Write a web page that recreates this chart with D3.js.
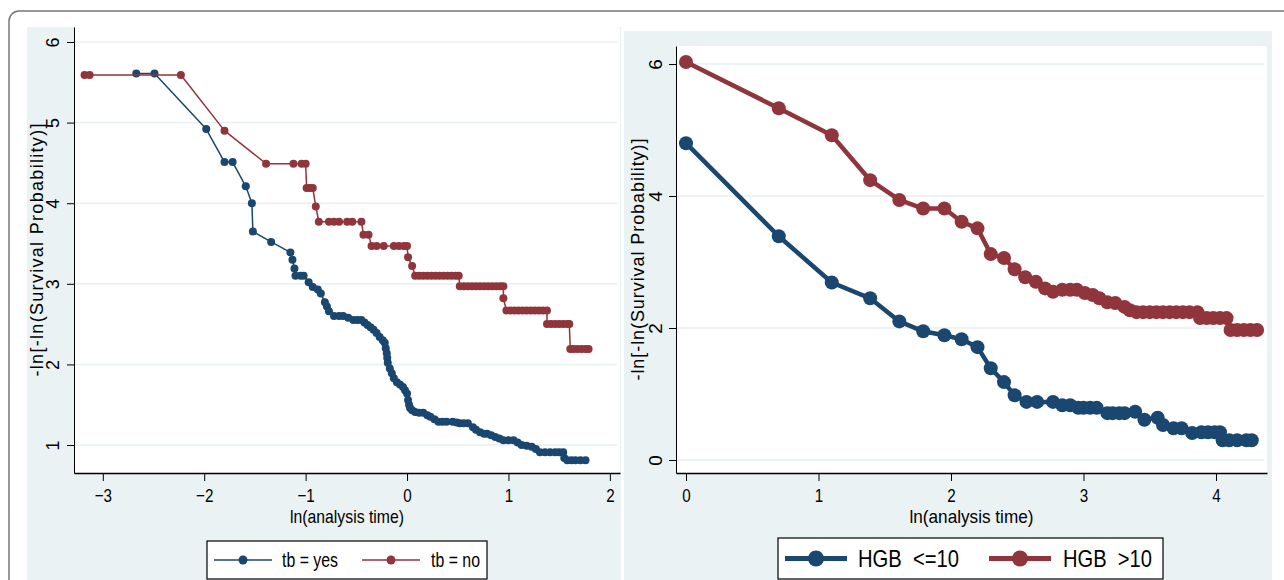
<!DOCTYPE html>
<html>
<head>
<meta charset="utf-8">
<script src="https://cdn.jsdelivr.net/npm/d3@7"></script>
<style>
  body { margin: 0; background: #fff; }
  svg { display: block; font-family: "Liberation Sans", Arial, sans-serif; }
  text { white-space: pre; }
</style>
</head>
<body>
<div class="canvas"></div>
<script>
// ---- data ----
// left: log-log survival by tb status, x = ln(analysis time)
const tbYes = [[-2.67,5.61],[-2.49,5.61],[-1.98,4.92],[-1.80,4.51],[-1.72,4.51],[-1.59,4.21],[-1.53,4.00],[-1.52,3.65],
  [-1.34,3.52],[-1.15,3.39],[-1.13,3.30],[-1.11,3.19],[-1.10,3.10],[-1.05,3.10],[-1.02,3.10],[-0.97,3.02],[-0.93,2.96],
  [-0.88,2.93],[-0.85,2.88],[-0.81,2.77],[-0.79,2.72],[-0.77,2.66],[-0.72,2.60],[-0.67,2.60],[-0.63,2.60],[-0.58,2.58],
  [-0.53,2.55],[-0.49,2.55],[-0.45,2.55],[-0.42,2.52],[-0.39,2.49],[-0.36,2.46],[-0.33,2.43],[-0.30,2.39],[-0.27,2.34],
  [-0.24,2.30],[-0.22,2.27],[-0.21,2.20],[-0.20,2.14],[-0.195,2.08],[-0.19,2.02],[-0.17,1.95],[-0.15,1.89],[-0.13,1.83],
  [-0.10,1.78],[-0.07,1.75],[-0.04,1.72],[-0.02,1.68],[0.00,1.64],[0.01,1.56],[0.02,1.50],[0.03,1.46],[0.05,1.43],
  [0.08,1.41],[0.12,1.40],[0.16,1.40],[0.20,1.37],[0.23,1.35],[0.27,1.32],[0.31,1.29],[0.35,1.29],[0.39,1.29],[0.45,1.29],
  [0.49,1.28],[0.52,1.27],[0.56,1.27],[0.60,1.27],[0.65,1.22],[0.68,1.19],[0.72,1.16],[0.76,1.14],[0.79,1.14],[0.83,1.12],
  [0.87,1.10],[0.91,1.08],[0.95,1.06],[1.00,1.06],[1.05,1.06],[1.09,1.03],[1.13,1.00],[1.18,0.99],[1.23,0.98],[1.27,0.95],
  [1.31,0.91],[1.36,0.91],[1.41,0.91],[1.46,0.91],[1.50,0.91],[1.54,0.91],[1.55,0.84],[1.58,0.81],[1.62,0.81],[1.66,0.81],
  [1.71,0.81],[1.76,0.81]];
const tbNo = [[-3.18,5.59],[-3.13,5.59],[-2.23,5.59],[-1.80,4.90],[-1.39,4.49],[-1.12,4.49],[-1.04,4.49],[-1.00,4.49],
  [-0.99,4.19],[-0.96,4.19],[-0.93,4.19],[-0.90,3.96],[-0.87,3.77],[-0.77,3.77],[-0.72,3.77],[-0.67,3.77],[-0.59,3.77],
  [-0.54,3.77],[-0.45,3.77],[-0.43,3.61],[-0.38,3.61],[-0.35,3.47],[-0.30,3.47],[-0.23,3.47],[-0.13,3.47],[-0.08,3.47],
  [-0.03,3.47],[0.00,3.47],[0.01,3.33],[0.05,3.22],[0.08,3.10],[0.12,3.10],[0.16,3.10],[0.20,3.10],[0.24,3.10],[0.28,3.10],
  [0.32,3.10],[0.36,3.10],[0.40,3.10],[0.44,3.10],[0.48,3.10],[0.51,3.10],[0.52,2.97],[0.56,2.97],[0.60,2.97],[0.64,2.97],
  [0.68,2.97],[0.72,2.97],[0.76,2.97],[0.80,2.97],[0.84,2.97],[0.88,2.97],[0.92,2.97],[0.95,2.97],[0.95,2.82],[0.98,2.67],
  [1.02,2.67],[1.06,2.67],[1.10,2.67],[1.14,2.67],[1.18,2.67],[1.22,2.67],[1.26,2.67],[1.30,2.67],[1.34,2.67],[1.38,2.67],
  [1.38,2.50],[1.42,2.50],[1.46,2.50],[1.50,2.50],[1.54,2.50],[1.58,2.50],[1.60,2.50],[1.61,2.19],[1.64,2.19],[1.68,2.19],
  [1.72,2.19],[1.76,2.19],[1.79,2.19]];
// right: by haemoglobin group
const hgbLow = [[0,4.80],[0.70,3.39],[1.10,2.69],[1.39,2.45],[1.61,2.10],[1.79,1.95],[1.95,1.89],[2.08,1.83],[2.20,1.71],
  [2.30,1.39],[2.40,1.18],[2.48,0.98],[2.57,0.88],[2.65,0.88],[2.77,0.88],[2.84,0.83],[2.90,0.83],[2.96,0.79],[3.00,0.79],
  [3.05,0.79],[3.10,0.79],[3.18,0.71],[3.22,0.71],[3.27,0.71],[3.31,0.71],[3.39,0.73],[3.46,0.61],[3.56,0.64],[3.60,0.53],
  [3.68,0.48],[3.74,0.48],[3.82,0.41],[3.89,0.42],[3.94,0.42],[3.99,0.42],[4.03,0.42],[4.05,0.30],[4.10,0.30],[4.16,0.30],
  [4.23,0.30],[4.27,0.30]];
const hgbHigh = [[0,6.03],[0.70,5.33],[1.10,4.92],[1.39,4.24],[1.61,3.94],[1.79,3.81],[1.95,3.81],[2.08,3.61],[2.20,3.51],
  [2.30,3.12],[2.40,3.06],[2.48,2.89],[2.56,2.77],[2.64,2.70],[2.71,2.60],[2.77,2.55],[2.84,2.58],[2.90,2.58],[2.95,2.58],
  [3.01,2.53],[3.07,2.50],[3.12,2.45],[3.18,2.39],[3.24,2.38],[3.31,2.32],[3.35,2.27],[3.40,2.24],[3.45,2.24],[3.50,2.24],
  [3.55,2.24],[3.60,2.24],[3.65,2.24],[3.70,2.24],[3.75,2.24],[3.80,2.24],[3.86,2.24],[3.88,2.15],[3.93,2.15],[3.98,2.15],
  [4.03,2.15],[4.08,2.15],[4.11,1.97],[4.16,1.97],[4.21,1.97],[4.26,1.97],[4.31,1.97]];

const leftXTicks = [-3,-2,-1,0,1,2];
const leftYTicks = [1,2,3,4,5,6];
const rightXTicks = [0,1,2,3,4];
const rightYTicks = [0,2,4,6];
const leftLabels = ['tb = yes','tb = no'];
const rightLabels = ['HGB  <=10','HGB  >10'];
const yTitle = '-ln[-ln(Survival Probability)]';
const xTitle = 'ln(analysis time)';

const navy = '#1a476f', maroon = '#90353b', bg = '#eaf2f3', grid = '#e8f0f2';

const svg = d3.select('.canvas').append('svg')
  .attr('width',1284).attr('height',580);

// outer frame + panel backgrounds
svg.append('rect').attr('x',9).attr('y',11).attr('width',1400).attr('height',700)
  .attr('rx',10).attr('fill','#fff').attr('stroke','#777').attr('stroke-width',1.5);
svg.append('rect').attr('x',27).attr('y',27).attr('width',594).attr('height',600).attr('fill',bg);
svg.append('rect').attr('x',624).attr('y',31).attr('width',648).attr('height',600).attr('fill',bg);

const panels = [
  { x0:74, x1:620, y0:27, y1:473, xd:[-3.284,2.10], yd:[0.653,6.186], xt:leftXTicks, yt:leftYTicks,
    series:[tbYes,tbNo], labels:leftLabels, r:4, lw:1.5, tickFs:18, xTitleLen:114, yTitleLen:253, yTitleX:37,
    legend:{x:207,y:541,w:280,h:38, items:[214,362], len:58, tx:[282,431], tl:[56,49], fs:20, r:4.5, lw:1.6}},
  { x0:676, x1:1267, y0:46, y1:473, xd:[-0.0755,4.385], yd:[-0.197,6.273], xt:rightXTicks, yt:rightYTicks,
    series:[hgbLow,hgbHigh], labels:rightLabels, r:7, lw:4.5, tickFs:19, xTitleLen:124, yTitleLen:242, yTitleX:638,
    legend:{x:778,y:538,w:385,h:41, items:[785,989], len:62, tx:[858,1063], tl:[101,89], fs:24, r:8, lw:5}}
];

const colours = [navy, maroon];

panels.forEach(p => {
  const x = d3.scaleLinear().domain(p.xd).range([p.x0,p.x1]);
  const y = d3.scaleLinear().domain(p.yd).range([p.y1,p.y0]);

  svg.append('rect').attr('x',p.x0).attr('y',p.y0)
    .attr('width',p.x1-p.x0).attr('height',p.y1-p.y0).attr('rx',3).attr('fill','#fff');

  // gridlines
  svg.append('g').selectAll('line').data(p.yt).join('line')
    .attr('x1',p.x0+1).attr('x2',p.x1-3)
    .attr('y1',d=>y(d)).attr('y2',d=>y(d))
    .attr('stroke',grid).attr('stroke-width',1.5);

  // y axis, labels turned like stata does
  const gy = svg.append('g').attr('transform',`translate(${p.x0},0)`)
    .call(d3.axisLeft(y).tickValues(p.yt).tickFormat(d3.format('d'))
      .tickSize(7).tickSizeOuter(0).tickPadding(0));
  gy.select('.domain').attr('stroke','#000');
  gy.selectAll('.tick line').attr('stroke','#000');
  gy.selectAll('.tick text')
    .attr('font-size',p.tickFs).attr('fill','#000').attr('font-family','Liberation Sans, Arial')
    .attr('text-anchor','middle').attr('x',null).attr('dy',null)
    .attr('transform','translate(-21,0) rotate(-90)').attr('dominant-baseline','central');

  // x axis
  const gx = svg.append('g').attr('transform',`translate(0,${p.y1})`)
    .call(d3.axisBottom(x).tickValues(p.xt).tickFormat(d3.format('d'))
      .tickSize(8).tickSizeOuter(0).tickPadding(6));
  gx.select('.domain').attr('stroke','#000').attr('stroke-width',1.5);
  gx.selectAll('.tick line').attr('stroke','#000');
  gx.selectAll('.tick text')
    .attr('font-size',19).attr('fill','#000').attr('font-family','Liberation Sans, Arial')
    .attr('transform','scale(0.8,1)').attr('y',16).attr('dy','0.71em');

  // titles
  svg.append('text').attr('x',(p.x0+p.x1)/2).attr('y',p.y1+50)
    .attr('text-anchor','middle').attr('font-size',19)
    .attr('textLength',p.xTitleLen).attr('lengthAdjust','spacingAndGlyphs')
    .text(xTitle);
  svg.append('text')
    .attr('transform',`translate(${p.yTitleX},${(p.y0+p.y1)/2}) rotate(-90)`)
    .attr('text-anchor','middle').attr('dominant-baseline','central').attr('font-size',18)
    .attr('textLength',p.yTitleLen).attr('lengthAdjust','spacing')
    .text(yTitle);

  // series
  const line = d3.line().x(d=>x(d[0])).y(d=>y(d[1]));
  p.series.forEach((s,i) => {
    const g = svg.append('g');
    g.append('path').datum(s).attr('d',line)
      .attr('fill','none').attr('stroke',colours[i]).attr('stroke-width',p.lw)
      .attr('stroke-linejoin','round');
    g.selectAll('circle').data(s).join('circle')
      .attr('cx',d=>x(d[0])).attr('cy',d=>y(d[1])).attr('r',p.r)
      .attr('fill',colours[i]);
  });

  // legend
  const L = p.legend;
  svg.append('rect').attr('x',L.x).attr('y',L.y).attr('width',L.w).attr('height',L.h)
    .attr('fill','#fff').attr('stroke','#000').attr('stroke-width',1.2);
  const cy = L.y + L.h/2;
  p.labels.forEach((lab,i) => {
    svg.append('line').attr('x1',L.items[i]).attr('x2',L.items[i]+L.len)
      .attr('y1',cy).attr('y2',cy).attr('stroke',colours[i]).attr('stroke-width',L.lw);
    svg.append('circle').attr('cx',L.items[i]+L.len/2).attr('cy',cy).attr('r',L.r).attr('fill',colours[i]);
    svg.append('text').attr('x',L.tx[i]).attr('y',cy).attr('dy','0.36em')
      .attr('font-size',L.fs).attr('textLength',L.tl[i]).attr('lengthAdjust','spacingAndGlyphs')
      .text(lab);
  });
});
</script>
</body>
</html>
